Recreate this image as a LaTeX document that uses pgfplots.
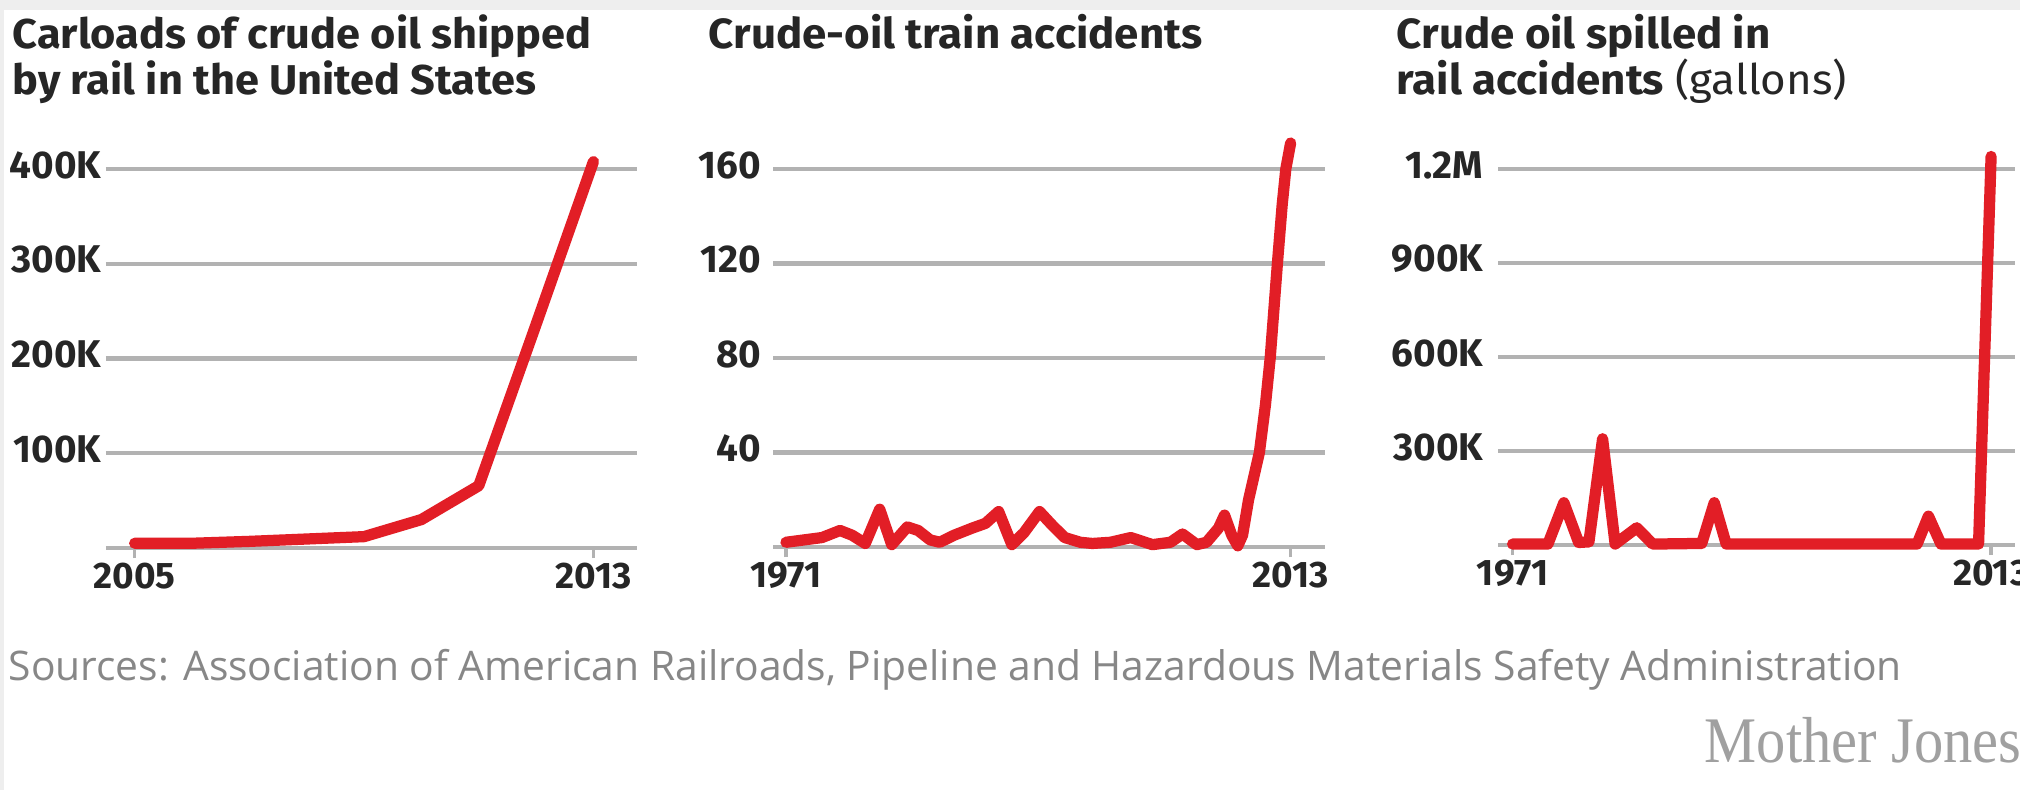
\documentclass[border=0pt]{standalone}
\usepackage{fontspec}
\setmainfont{Fira Sans}
\newfontfamily\titlefont{Fira Sans}[FakeStretch=1.04]
\newfontfamily\srcfont{Open Sans}
\newfontfamily\mjfont{Liberation Serif}
\usepackage{graphicx}
\usepackage{pgfplots}
\pgfplotsset{compat=1.18}
\definecolor{mjred}{RGB}{226,30,38}
\definecolor{gridgray}{RGB}{178,178,178}
\definecolor{txt}{RGB}{38,38,38}
\definecolor{srcgray}{RGB}{135,135,135}
\definecolor{mjgray}{RGB}{160,160,160}
\definecolor{bandgray}{RGB}{238,238,238}

\pgfplotsset{
  mjstyle/.style={
    scale only axis, anchor=south west, clip=false,
    axis x line=bottom, axis y line=left,
    axis line style={draw=none},
    ymajorgrids, grid style={gridgray, line width=1.2pt},
    ytick style={draw=none},
    xtick style={gridgray, line width=1pt},
    tick align=outside, major tick length=0.1cm,
    ymin=0, scaled y ticks=false, scaled x ticks=false,
    ticklabel style={font=\fontsize{11}{13}\selectfont\bfseries, text=txt},
    xticklabel style={anchor=north, inner sep=0pt, yshift=-0.04cm, font=\fontsize{10.5}{12}\selectfont\bfseries},
    yticklabel style={anchor=east, inner sep=0pt, yshift=0.04cm},
  },
  redline/.style={mjred, line width=3.2pt, line join=round, line cap=round, no marks},
}

\begin{document}
\begin{tikzpicture}[x=1cm,y=1cm]
\fill[white] (0,0) rectangle (20.2,7.9);
\fill[bandgray] (0,7.8) rectangle (20.2,7.9);
\fill[bandgray] (0,0) rectangle (0.04,7.9);

% Titles
\node[anchor=base west, inner sep=0pt, text=txt, font=\titlefont\fontsize{11.85}{14}\selectfont\bfseries] at (0.12,7.42) {Carloads of crude oil shipped};
\node[anchor=base west, inner sep=0pt, text=txt, font=\titlefont\fontsize{11.85}{14}\selectfont\bfseries] at (0.12,6.96) {by rail in the United States};
\node[anchor=base west, inner sep=0pt, text=txt, font=\titlefont\fontsize{12}{14}\selectfont\bfseries] at (7.08,7.42) {Crude-oil train accidents};
\node[anchor=base west, inner sep=0pt, text=txt, font=\titlefont\fontsize{12}{14}\selectfont\bfseries] at (13.96,7.42) {Crude oil spilled in};
\node[anchor=base west, inner sep=0pt, text=txt, font=\titlefont\fontsize{12}{14}\selectfont] at (13.96,6.96) {\textbf{rail accidents} (gallons)};

% Panel 1
\begin{axis}[mjstyle, at={(1.06cm,2.42cm)}, width=5.31cm, height=3.79cm,
  xmin=2004.5, xmax=2013.76, ymax=400000,
  xtick={2005,2013}, xticklabels={2005,2013},
  ytick={0,100000,200000,300000,400000}, yticklabels={,100K,200K,300K,400K},
  yticklabel style={xshift=0.06cm}]
\addplot[redline] coordinates {
(2005,5000) (2006,5000) (2007,7000) (2008,9500) (2009,12000)
(2010,30000) (2011,65700) (2012,236000) (2013,407800)};
\end{axis}

% Panel 2
\begin{axis}[mjstyle, at={(7.73cm,2.43cm)}, width=5.52cm, height=3.78cm,
  xmin=1969.92, xmax=2015.86, ymax=160,
  xtick={1971,2013}, xticklabels={1971,2013},
  ytick={0,40,80,120,160}, yticklabels={,40,80,120,160},
  yticklabel style={xshift=-0.01cm}]
\addplot[redline] coordinates {
(1971,2) (1972.5,3) (1974,4) (1975.5,7) (1976.5,5) (1977.6,1.5)
(1978.8,16) (1979.8,1) (1981.1,8.5) (1982,7) (1983,3) (1983.8,2)
(1985,5) (1986.5,8) (1987.6,10) (1988.7,15) (1989.8,1) (1990.8,6)
(1992.1,15) (1993.2,9) (1994.2,4) (1995.5,2) (1996.5,1.5) (1998,2)
(1999.7,4) (2001.5,1) (2003,2) (2004,5.5) (2005.2,1) (2006,2)
(2007,8) (2007.5,13.5) (2008.1,5) (2008.6,0.5) (2009,5) (2009.5,20)
(2010.4,40) (2010.9,60) (2011.3,80) (2011.9,120) (2012.3,145)
(2012.6,160) (2013,171)};
\end{axis}

% Panel 3
\begin{axis}[mjstyle, at={(14.98cm,2.45cm)}, width=5.17cm, height=3.76cm,
  xmin=1969.72, xmax=2015.1, ymax=1200000,
  xtick={1971,2013}, xticklabels={1971,2013},
  ytick={0,300000,600000,900000,1200000}, yticklabels={,300K,600K,900K,1.2M},
  yticklabel style={xshift=-0.04cm}]
\addplot[redline] coordinates {
(1971,3000) (1974.1,3000) (1975.5,135000) (1976.8,8000) (1977.7,10000)
(1978.9,339000) (1980,3000) (1981.9,55000) (1983.3,3000) (1987.6,5000)
(1988.7,135000) (1989.75,3000) (2006.5,3000) (2007.5,92000)
(2008.6,3000) (2011.9,3000) (2013,1240000)};
\end{axis}

% Footer
\node[anchor=base west, inner sep=0pt, text=srcgray, font=\srcfont\fontsize{11.6}{13}\selectfont] at (0.08,1.10)
  {Sources: Association of American Railroads, Pipeline and Hazardous Materials Safety Administration};
\node[anchor=base west, inner sep=0pt, text=mjgray, font=\mjfont\fontsize{18.5}{20}\selectfont] at (17.04,0.28)
  {\scalebox{0.9}[1]{Mother Jones}};

\pgfresetboundingbox
\useasboundingbox (0,0) rectangle (20.2,7.9);
\end{tikzpicture}
\end{document}
